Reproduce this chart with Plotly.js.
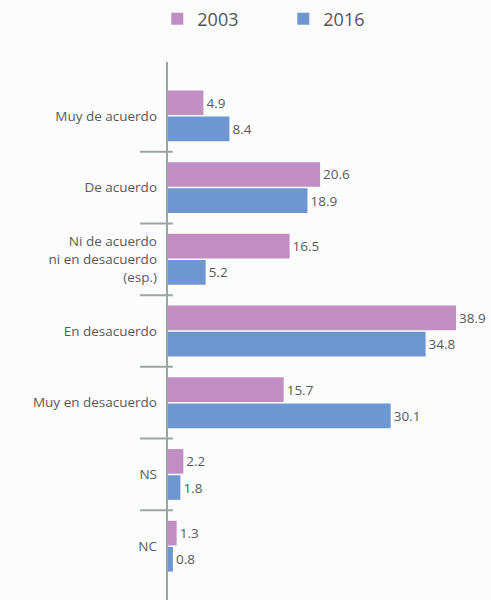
<!DOCTYPE html>
<html>
<head>
<meta charset="utf-8">
<script src="https://cdn.plot.ly/plotly-3.0.1.min.js"></script>
<style>html,body{margin:0;padding:0;background:#fcfcfc;}</style>
</head>
<body>
<div id="chart" style="width:491px;height:600px;"></div>
<script>
const categories = ["Muy de acuerdo", "De acuerdo", "Ni de acuerdo<br>ni en desacuerdo<br>(esp.)", "En desacuerdo", "Muy en desacuerdo", "NS", "NC"];
const values2003 = [4.9, 20.6, 16.5, 38.9, 15.7, 2.2, 1.3];
const values2016 = [8.4, 18.9, 5.2, 34.8, 30.1, 1.8, 0.8];
const seriesNames = ["2003", "2016"];

const pink = "#c08ec3";
const blue = "#6e97d2";
const textCol = "#5a5a5a";
const axisCol = "#9aa6a2";
const fontFam = "'Open Sans', sans-serif";

function fmt(v){ return v.toFixed(1); }

const traces = [
  {type:"bar", orientation:"h", name:seriesNames[0], y:categories, x:values2003,
   marker:{color:pink}, text:values2003.map(fmt), textposition:"outside",
   textfont:{family:fontFam, size:13.5, color:textCol}, cliponaxis:false, hoverinfo:"x+name"},
  {type:"bar", orientation:"h", name:seriesNames[1], y:categories, x:values2016,
   marker:{color:blue}, text:values2016.map(fmt), textposition:"outside",
   textfont:{family:fontFam, size:13.5, color:textCol}, cliponaxis:false, hoverinfo:"x+name"}
];

const shapes = [];
for (let i = 0; i < categories.length - 1; i++) {
  shapes.push({type:"line", xref:"paper", yref:"y", x0:-0.083, x1:0.018, y0:i+0.5, y1:i+0.5,
    line:{color:axisCol, width:2}});
}
shapes.push({type:"line", xref:"paper", yref:"paper", x0:0, x1:0, y0:0, y1:1, line:{color:axisCol, width:2}});

const layout = {
  width:491, height:600,
  margin:{l:167, r:0, t:62, b:0},
  paper_bgcolor:"#fcfcfc", plot_bgcolor:"#fcfcfc",
  barmode:"group", bargap:0.27, bargroupgap:0.06,
  font:{family:fontFam, color:textCol},
  showlegend:true,
  legend:{orientation:"h", xref:"container", yref:"container", x:0.577, xanchor:"center", y:0.999, yanchor:"top",
    font:{size:18, color:"#555"}, traceorder:"normal", itemwidth:30, bgcolor:"rgba(0,0,0,0)", entrywidth:81},
  xaxis:{range:[0, 43.6], showgrid:false, zeroline:false, showticklabels:false, ticks:"", showline:false, fixedrange:true},
  yaxis:{type:"category", range:[6.75, -0.75], showgrid:false, zeroline:false, ticks:"", showline:false,
    tickfont:{size:13.5, color:textCol}, ticklabelstandoff:9, fixedrange:true},
  shapes:shapes
};

Plotly.newPlot("chart", traces, layout, {displayModeBar:false, staticPlot:true});
</script>
</body>
</html>
